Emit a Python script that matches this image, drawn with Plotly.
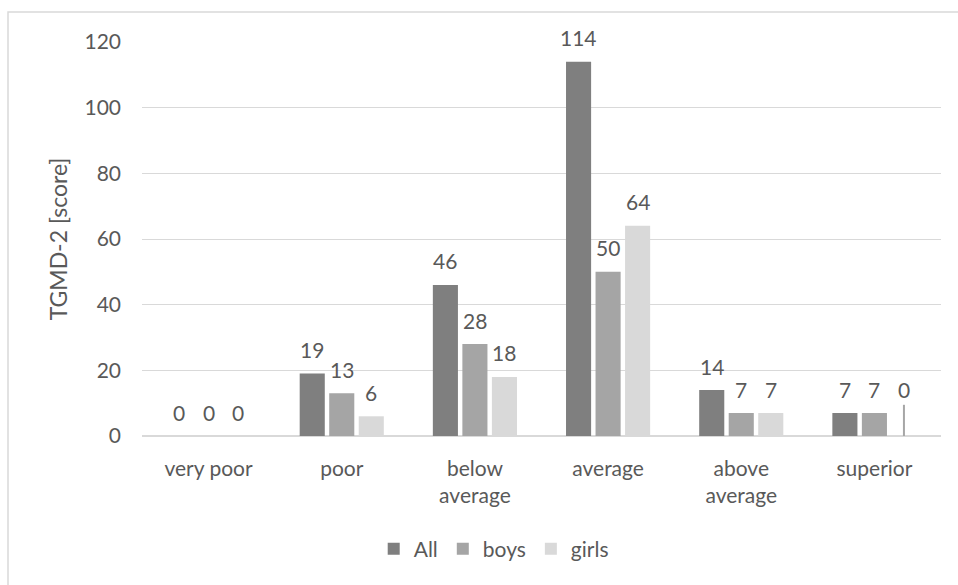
import plotly.graph_objects as go

categories = ["very poor", "poor", "below<br>average", "average", "above<br>average", "superior"]
all_vals = [0, 19, 46, 114, 14, 7]
boys_vals = [0, 13, 28, 50, 7, 7]
girls_vals = [0, 6, 18, 64, 7, 0]
series_names = ["All", "boys", "girls"]
series_colors = ["#7f7f7f", "#a5a5a5", "#d9d9d9"]
# manually lifted label (Excel leader line) for girls / superior
girls_label_y = [0, 6, 18, 64, 7, 7]
girls_leader_top = [None, None, None, None, None, 9.5]
y_ticks = [0, 20, 40, 60, 80, 100, 120]

BARGAP = 0.335
GROUPGAP = 0.15
FONT = "Lato, Carlito, 'Open Sans', sans-serif"
TXT = "#595959"
FS = 21

xs = list(range(len(categories)))
series = [all_vals, boys_vals, girls_vals]
label_ys = [all_vals, boys_vals, girls_label_y]

fig = go.Figure()
for name, vals, col in zip(series_names, series, series_colors):
    fig.add_trace(go.Bar(x=xs, y=vals, name=name, marker=dict(color=col, line=dict(width=0)),
                         hoverinfo="x+y"))

slot = (1 - BARGAP) / 3
for i, (vals, lys) in enumerate(zip(series, label_ys)):
    for j, (v, ly) in enumerate(zip(vals, lys)):
        fig.add_annotation(x=j + (i - 1) * slot, y=ly, text=str(v), showarrow=False,
                           yanchor="middle", yshift=24, xref="x", yref="y",
                           font=dict(family=FONT, size=FS, color=TXT))

for j, top in enumerate(girls_leader_top):
    if top is not None:
        fig.add_shape(type="line", xref="x", yref="y", x0=j + slot, x1=j + slot, y0=0, y1=top,
                      line=dict(color="#a6a6a6", width=2))

# outer chart frame
fig.add_shape(type="rect", xref="paper", yref="paper", x0=-0.1677, x1=1.03, y0=-0.40, y1=1.0761,
              line=dict(color="#d9d9d9", width=1.5), layer="below")

fig.update_layout(
    width=958, height=585,
    margin=dict(l=142, r=17, t=42, b=149),
    paper_bgcolor="white", plot_bgcolor="white",
    barmode="group", bargap=BARGAP, bargroupgap=GROUPGAP,
    font=dict(family=FONT, size=FS, color=TXT),
    showlegend=True,
    legend=dict(orientation="h", x=0.290, xanchor="left", y=-0.287, yanchor="middle",
                font=dict(family=FONT, size=FS, color=TXT), itemwidth=30,
                traceorder="normal"),
    xaxis=dict(tickmode="array", tickvals=xs, ticktext=categories, range=[-0.5, 5.5],
               showgrid=False, showline=False, zeroline=False, ticks="",
               ticklabelstandoff=18, tickfont=dict(family=FONT, size=FS, color=TXT)),
    yaxis=dict(range=[0, 120], tickvals=y_ticks, showgrid=True, gridcolor="#d9d9d9", gridwidth=1,
               zeroline=True, zerolinecolor="#d9d9d9", zerolinewidth=1.5, showline=False, ticks="",
               ticklabelstandoff=20, tickfont=dict(family=FONT, size=FS, color=TXT),
               title=dict(text="TGMD-2 [score]", standoff=10, font=dict(family=FONT, size=23, color=TXT))),
)

fig.write_html("out.html")
